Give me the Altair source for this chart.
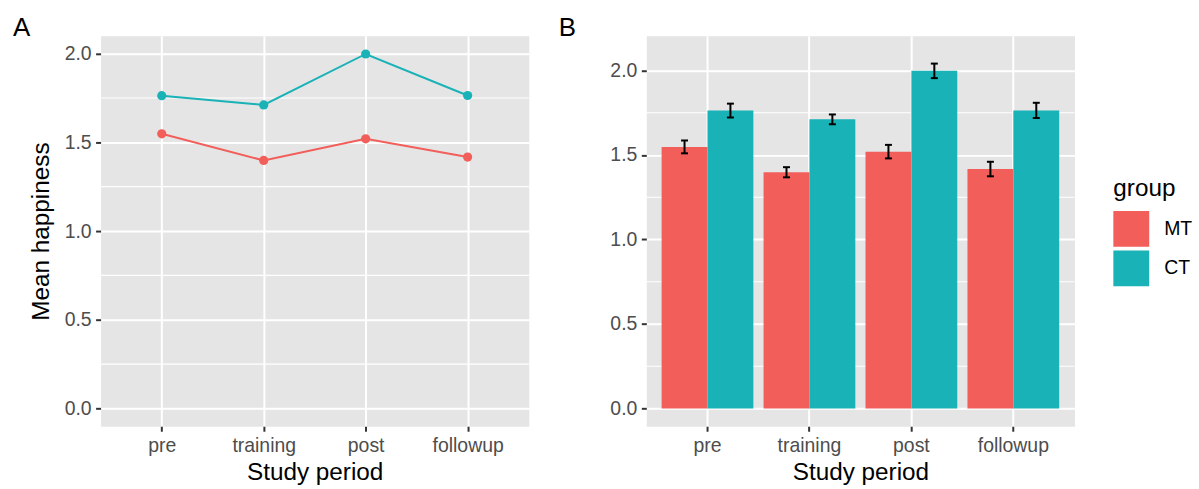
import altair as alt
import pandas as pd

periods = ["pre", "training", "post", "followup"]
groups = ["MT", "CT"]
mt_mean = [1.548, 1.398, 1.520, 1.417]
ct_mean = [1.763, 1.711, 1.998, 1.764]
mt_se = [0.038, 0.030, 0.040, 0.043]
ct_se = [0.041, 0.029, 0.043, 0.045]
major_ticks = [0.0, 0.5, 1.0, 1.5, 2.0]
minor_ticks = [0.25, 0.75, 1.25, 1.75]
colors = ["#F25E5A", "#19B2B6"]

rows = []
for g, means, ses in (("MT", mt_mean, mt_se), ("CT", ct_mean, ct_se)):
    for p, m, s in zip(periods, means, ses):
        rows.append({"period": p, "group": g, "mean": m, "lo": m - s, "hi": m + s})
df = pd.DataFrame(rows)
minor_df = pd.DataFrame({"v": minor_ticks})

FONT = "Liberation Sans"
LABEL_FS = 19.5
TITLE_FS = 24.4
TAG_FS = 26

color_scale = alt.Scale(domain=groups, range=colors)


def tag(text):
    return alt.TitleParams(text, anchor="start", frame="group", fontSize=TAG_FS,
                           font=FONT, fontWeight="normal", color="black",
                           offset=-5, dx=-88)


def y_axis(title):
    return alt.Axis(title=title, values=major_ticks, format=".1f", grid=True)


# ---------- Panel A ----------
xA = alt.X("period:N", sort=periods, scale=alt.Scale(type="point", padding=0.6),
           axis=alt.Axis(title="Study period", grid=True))
yA_scale = alt.Scale(domain=[-0.1, 2.1], nice=False, zero=False)
yA_axis = y_axis("Mean happiness")

minorA = alt.Chart(minor_df).mark_rule(color="white", strokeWidth=1.2).encode(
    y=alt.Y("v:Q", scale=yA_scale, axis=yA_axis)
)
lineA = alt.Chart(df).mark_line(strokeWidth=2).encode(
    x=xA,
    y=alt.Y("mean:Q", scale=yA_scale, axis=yA_axis),
    color=alt.Color("group:N", scale=color_scale, legend=None),
    detail="group:N",
)
pointA = alt.Chart(df).mark_circle(size=85, opacity=1).encode(
    x=xA,
    y=alt.Y("mean:Q", scale=yA_scale, axis=yA_axis),
    color=alt.Color("group:N", scale=color_scale, legend=None),
)
panelA = alt.layer(minorA, lineA, pointA).properties(width=430, height=392, title=tag("A"))

# ---------- Panel B ----------
xB = alt.X("period:N", sort=periods,
           scale=alt.Scale(type="band", paddingInner=0.1, paddingOuter=0.15),
           axis=alt.Axis(title="Study period", grid=True, bandPosition=0.5))
offB = alt.XOffset("group:N", sort=groups, scale=alt.Scale(domain=groups, paddingInner=0, paddingOuter=0))
yB_scale = alt.Scale(domain=[-0.105, 2.205], nice=False, zero=False)
yB_axis = y_axis(None)

legendB = alt.Legend(
    title="group", orient="none", legendX=469, legendY=141.4,
    symbolType="square", symbolSize=1296, symbolStrokeWidth=0, symbolOpacity=1,
    labelFont=FONT, labelFontSize=LABEL_FS, labelColor="black", labelOffset=15,
    titleFont=FONT, titleFontSize=TITLE_FS, titleColor="black", titleFontWeight="normal",
    titlePadding=10, rowPadding=3.7, padding=0,
)

minorB = alt.Chart(minor_df).mark_rule(color="white", strokeWidth=1.2).encode(
    y=alt.Y("v:Q", scale=yB_scale, axis=yB_axis)
)
barsB = alt.Chart(df).mark_bar().encode(
    x=xB,
    xOffset=offB,
    y=alt.Y("mean:Q", scale=yB_scale, axis=yB_axis),
    y2=alt.datum(0),
    color=alt.Color("group:N", scale=color_scale, legend=legendB),
)
errB = alt.Chart(df).mark_rule(color="black", strokeWidth=2).encode(
    x=xB, xOffset=offB,
    y=alt.Y("lo:Q", scale=yB_scale, axis=yB_axis), y2="hi:Q",
)
capLo = alt.Chart(df).mark_tick(color="black", thickness=2, size=7, opacity=1).encode(
    x=xB, xOffset=offB, y=alt.Y("lo:Q", scale=yB_scale, axis=yB_axis),
)
capHi = alt.Chart(df).mark_tick(color="black", thickness=2, size=7, opacity=1).encode(
    x=xB, xOffset=offB, y=alt.Y("hi:Q", scale=yB_scale, axis=yB_axis),
)
panelB = alt.layer(minorB, barsB, errB, capLo, capHi).properties(width=430, height=392, title=tag("B"))

chart = (
    alt.hconcat(panelA, panelB, spacing=27)
    .resolve_legend(color="independent")
    .properties(padding={"left": 12, "top": 13, "right": 5, "bottom": 5})
    .configure(font=FONT)
    .configure_view(fill="#E5E5E5", stroke="transparent")
    .configure_axis(domain=False, labelFont=FONT, labelFontSize=LABEL_FS, labelColor="#4D4D4D",
                    tickColor="#333333", tickSize=5, tickWidth=2,
                    titleFont=FONT, titleFontSize=TITLE_FS, titleColor="black",
                    titleFontWeight="normal", gridColor="white", gridWidth=2)
    .configure_axisX(labelAngle=0, labelPadding=5.6, titlePadding=5.3)
    .configure_axisY(labelPadding=4.5, titlePadding=10.8)
)

chart.save("out.html", embed_options={"renderer": "svg", "actions": False})
